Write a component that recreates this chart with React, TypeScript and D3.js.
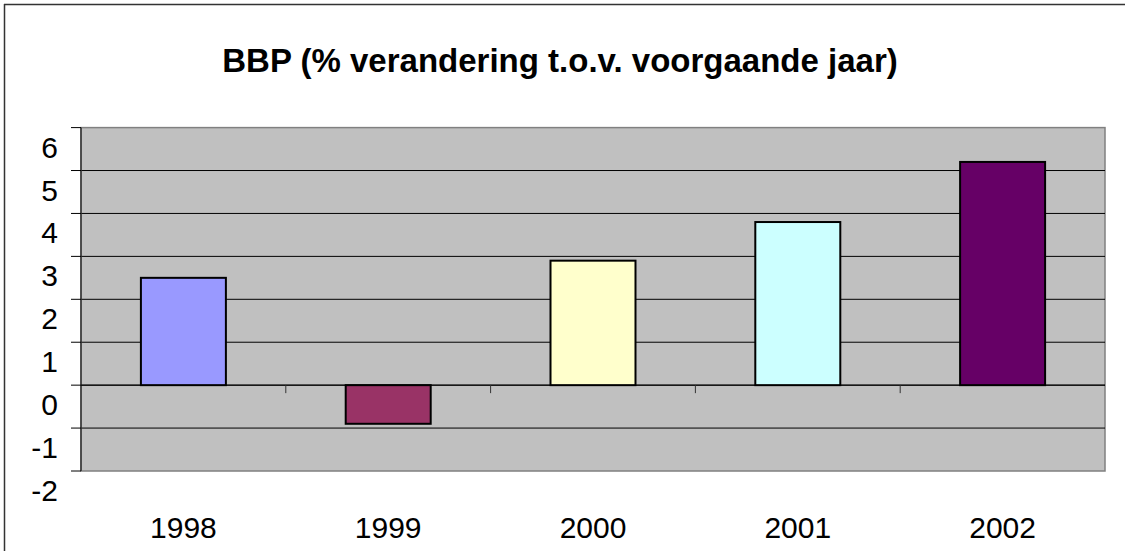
import React from 'react';
import * as d3 from 'd3';

const years = ['1998', '1999', '2000', '2001', '2002'];
const values = [2.5, -0.9, 2.9, 3.8, 5.2];
const barColors = ['#9999FF', '#993366', '#FFFFCC', '#CCFFFF', '#660066'];
const yTickValues = [-2, -1, 0, 1, 2, 3, 4, 5, 6];
const title = 'BBP (% verandering t.o.v. voorgaande jaar)';

const width = 1125;
const height = 551;
const plotLeft = 81;
const plotRight = 1105;
const plotTop = 127.6;
const plotBottom = 471;
const fontFamily = 'Liberation Sans, Arial, sans-serif';

const App: React.FC = () => {
  const xScale = d3.scaleBand<string>().domain(years).range([plotLeft, plotRight]).padding(0);
  const yScale = d3.scaleLinear().domain([-2, 6]).range([plotBottom, plotTop]);
  const bw = xScale.bandwidth();
  const barW = bw * 0.415;
  const step = yScale(0) - yScale(1);

  return (
    <div style={{position: 'absolute', left: 0, top: 0}}>
      <svg width={width} height={height} style={{display: 'block', background: 'white'}}>
        {/* outer chart border: only top and left visible */}
        <line x1={4} x2={width} y1={4.5} y2={4.5} stroke="#333" strokeWidth={1.5}/>
        <line x1={4.5} x2={4.5} y1={4} y2={height} stroke="#333" strokeWidth={1.5}/>

        <text x={560} y={72} textAnchor="middle" fontFamily={fontFamily} fontWeight="bold" fontSize={33} fill="black">
          {title}
        </text>

        {/* plot area */}
        <rect x={plotLeft} y={plotTop} width={plotRight - plotLeft} height={plotBottom - plotTop} fill="#C0C0C0" stroke="#808080" strokeWidth={1.5}/>

        {/* gridlines */}
        {yTickValues.filter(v => v > -2 && v < 6).map(v => (
          <line key={v} x1={plotLeft} x2={plotRight} y1={yScale(v)} y2={yScale(v)} stroke="black" strokeWidth={1}/>
        ))}

        {/* y axis */}
        <line x1={plotLeft} x2={plotLeft} y1={plotTop} y2={plotBottom} stroke="#333" strokeWidth={1.5}/>
        {yTickValues.map(v => (
          <g key={v}>
            <line x1={plotLeft - 10} x2={plotLeft} y1={yScale(v)} y2={yScale(v)} stroke="black" strokeWidth={1}/>
            <text x={58} y={yScale(v) + step * 0.7} textAnchor="end" fontFamily={fontFamily} fontSize={30} fill="black">{v}</text>
          </g>
        ))}

        {/* zero axis with category ticks */}
        <line x1={plotLeft} x2={plotRight} y1={yScale(0)} y2={yScale(0)} stroke="black" strokeWidth={1}/>
        {years.slice(1).map(y => (
          <line key={y} x1={xScale(y)!} x2={xScale(y)!} y1={yScale(0)} y2={yScale(0) + 8} stroke="#333" strokeWidth={1}/>
        ))}

        {/* bars */}
        {years.map((y, i) => {
          const x = xScale(y)! + (bw - barW) / 2;
          const v = values[i];
          return (
            <rect key={y} x={x} width={barW} y={yScale(Math.max(0, v))} height={Math.abs(yScale(v) - yScale(0))}
              fill={barColors[i]} stroke="black" strokeWidth={2}/>
          );
        })}

        {/* x labels */}
        {years.map(y => (
          <text key={y} x={xScale(y)! + bw / 2} y={538} textAnchor="middle" fontFamily={fontFamily} fontSize={30} fill="black">{y}</text>
        ))}
      </svg>
    </div>
  );
};

export default App;
